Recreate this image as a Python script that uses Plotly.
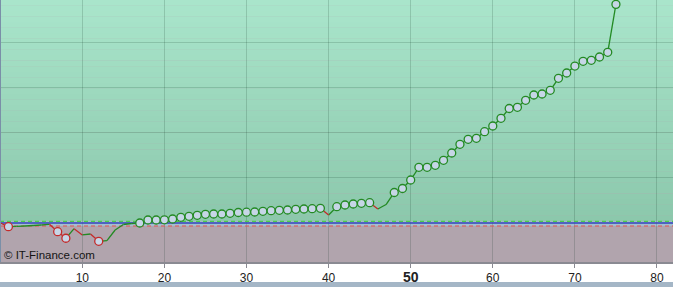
import plotly.graph_objects as go

# ---- data ----
days = list(range(76))
values = [0.0, -0.82, -0.73, -0.66, -0.55, -0.44, -0.29, -1.92, -3.38, -1.26,
          -2.65, -2.43, -4.05, -3.92, -1.55, -0.33, -0.11, 0.0, 0.66, 0.66,
          0.70, 0.88, 1.26, 1.48, 1.70, 1.92, 1.99, 1.99, 2.15, 2.32,
          2.39, 2.43, 2.59, 2.72, 2.81, 2.88, 3.03, 3.10, 3.16, 3.25,
          1.77, 3.61, 3.98, 4.20, 4.36, 4.49, 3.10, 4.09, 6.75, 7.63,
          9.51, 12.32, 12.32, 12.77, 13.87, 15.49, 17.41, 18.52, 18.74, 20.20,
          21.46, 23.16, 25.33, 25.60, 27.15, 28.32, 28.54, 29.36, 32.01, 33.19,
          34.73, 35.77, 36.00, 36.73, 37.77, 48.38]
marker_days = [1, 7, 8, 12] + list(range(17, 40)) + list(range(41, 46)) + list(range(48, 76))
tick_vals = [10, 20, 30, 40, 50, 60, 70, 80]
tick_text = ["10", "20", "30", "40", "<span style='font-size:14px'><b>50</b></span>", "60", "70", "80"]
grid_vals = [10, 20, 30, 40]
upper_ref = 0.38
lower_ref = -0.66
watermark = "© IT-Finance.com"

X_RANGE = [-0.024, 81.95]
Y_RANGE = [-8.63, 49.34]

GREEN = "#238a23"
RED = "#c42a2a"

# ---- segments coloured by direction ----
gx, gy, rx, ry = [], [], [], []
for i in range(len(days) - 1):
    seg_x = [days[i], days[i + 1], None]
    seg_y = [values[i], values[i + 1], None]
    if values[i + 1] >= values[i]:
        gx += seg_x; gy += seg_y
    else:
        rx += seg_x; ry += seg_y

fig = go.Figure()

# reference lines
fig.add_trace(go.Scatter(x=X_RANGE, y=[upper_ref, upper_ref], mode="lines",
                         line=dict(color="#4ccc4c", width=1.2, dash="4px,3px"),
                         hoverinfo="skip", showlegend=False))
fig.add_trace(go.Scatter(x=X_RANGE, y=[lower_ref, lower_ref], mode="lines",
                         line=dict(color="#e65050", width=1.2, dash="4px,3px"),
                         hoverinfo="skip", showlegend=False))
fig.add_trace(go.Scatter(x=X_RANGE, y=[0, 0], mode="lines",
                         line=dict(color="#3344bb", width=1.5),
                         hoverinfo="skip", showlegend=False))

fig.add_trace(go.Scatter(x=gx, y=gy, mode="lines", line=dict(color=GREEN, width=1.3),
                         showlegend=False))
fig.add_trace(go.Scatter(x=rx, y=ry, mode="lines", line=dict(color=RED, width=1.3),
                         showlegend=False))

mx = marker_days
my = [values[d] for d in marker_days]
edge = [GREEN if v >= 0 else RED for v in my]
fig.add_trace(go.Scatter(x=mx, y=my, mode="markers",
                         marker=dict(size=8, color="#c6d6e6",
                                     line=dict(color=edge, width=1.3)),
                         showlegend=False))

# ---- background shapes ----
shapes = []
n = 40
top_c = (169, 229, 203)
bot_c = (140, 200, 172)
lo, hi = upper_ref, Y_RANGE[1]
for k in range(n):
    t = k / (n - 1)
    c = tuple(int(round(bot_c[j] + (top_c[j] - bot_c[j]) * t)) for j in range(3))
    y0 = lo + (hi - lo) * k / n
    y1 = lo + (hi - lo) * (k + 1) / n + 0.05
    shapes.append(dict(type="rect", xref="paper", yref="y", x0=0, x1=1, y0=y0, y1=min(y1, hi),
                       fillcolor="rgb(%d,%d,%d)" % c, line=dict(width=0), layer="below"))
shapes.append(dict(type="rect", xref="paper", yref="y", x0=0, x1=1, y0=lower_ref, y1=upper_ref,
                   fillcolor="#a3bfcf", line=dict(width=0), layer="below"))
# left border
shapes.append(dict(type="line", xref="paper", yref="paper", x0=0, x1=0, y0=0, y1=1,
                   line=dict(color="#7a8fa8", width=2), layer="above"))
# bottom strip
shapes.append(dict(type="rect", xref="paper", yref="paper", x0=0, x1=1, y0=-0.0954, y1=-0.0763,
                   fillcolor="#a4b6c6", line=dict(width=0), layer="above"))

fig.update_layout(
    width=673, height=287,
    margin=dict(l=0, r=0, t=0, b=25),
    paper_bgcolor="white",
    plot_bgcolor="#b1a4ad",
    shapes=shapes,
    font=dict(family="Arial, Liberation Sans, sans-serif", size=12, color="#222222"),
    xaxis=dict(range=X_RANGE, tickvals=tick_vals, ticktext=tick_text,
               showgrid=True, gridcolor="rgba(0,40,20,0.16)", gridwidth=1,
               ticks="outside", ticklen=4, tickcolor="#8a8a92",
               showline=True, linecolor="#8a8a92", linewidth=2,
               zeroline=False, fixedrange=True),
    yaxis=dict(range=Y_RANGE, tickvals=grid_vals, showticklabels=False,
               showgrid=True, gridcolor="rgba(0,40,20,0.16)", gridwidth=1,
               ticks="", zeroline=False, showline=False, fixedrange=True),
    annotations=[dict(text=watermark, xref="paper", yref="paper", x=0.003, y=-0.004,
                      xanchor="left", yanchor="bottom", showarrow=False,
                      font=dict(size=11.5, color="#141414", family="Arial, Liberation Sans, sans-serif"))],
)

fig.write_html("out.html")
